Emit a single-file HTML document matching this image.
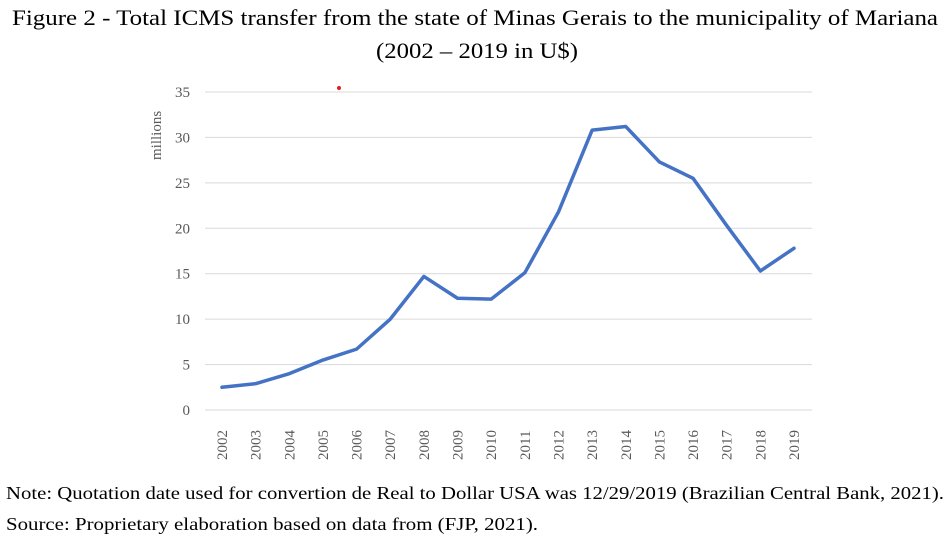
<!DOCTYPE html>
<html><head><meta charset="utf-8"><style>
body{margin:0;background:#fff;width:948px;height:547px;overflow:hidden;font-family:"Liberation Serif",serif;}
</style></head><body>
<svg id="c" width="948" height="547" style="position:absolute;left:0;top:0" font-family="Liberation Serif">
<text x="12" y="25" font-size="22" textLength="926" lengthAdjust="spacingAndGlyphs">Figure 2 - Total ICMS transfer from the state of Minas Gerais to the municipality of Mariana</text>
<text x="376" y="58" font-size="22" textLength="202" lengthAdjust="spacingAndGlyphs">(2002 – 2019 in U$)</text>
<text x="6" y="499" font-size="18" textLength="938" lengthAdjust="spacingAndGlyphs">Note: Quotation date used for convertion de Real to Dollar USA was 12/29/2019 (Brazilian Central Bank, 2021).</text>
<text x="6" y="530" font-size="18" textLength="532" lengthAdjust="spacingAndGlyphs">Source: Proprietary elaboration based on data from (FJP, 2021).</text>
</svg>
<script>
const years=["2002","2003","2004","2005","2006","2007","2008","2009","2010","2011","2012","2013","2014","2015","2016","2017","2018","2019"];
const values=[2.5,2.9,4.0,5.5,6.7,10.0,14.7,12.3,12.2,15.1,21.8,30.8,31.2,27.3,25.5,20.3,15.3,17.8];
const yTicks=[0,5,10,15,20,25,30,35];
const svg=document.getElementById('c');const NS='http://www.w3.org/2000/svg';
const x0=222,x1=794,yb=410,yt=92,ymax=35;
const X=i=>x0+(x1-x0)*i/(years.length-1);
const Y=v=>yb-(yb-yt)*v/ymax;
function mk(t,a){const e=document.createElementNS(NS,t);for(const k in a)e.setAttribute(k,a[k]);svg.appendChild(e);return e;}
yTicks.forEach(v=>{
const g=mk('line',{x1:205,x2:812,y1:Y(v),y2:Y(v),stroke:'#d9d9d9','stroke-width':1});


const t=mk('text',{x:190,y:Y(v)+5,'text-anchor':'end','font-size':15,fill:'#595959'});t.textContent=v;


});
years.forEach((yr,i)=>{
const t=mk('text',{transform:`translate(${X(i)+5},${460}) rotate(-90)`,'font-size':15,fill:'#595959'});t.textContent=yr;


});
const yl=mk('text',{transform:'translate(161,160) rotate(-90)','font-size':15,fill:'#595959'});yl.textContent='millions';


const p=mk('polyline',{points:values.map((v,i)=>X(i)+','+Y(v)).join(' '),fill:'none',stroke:'#4472c4','stroke-width':3.5,'stroke-linejoin':'round','stroke-linecap':'round'});


const d=mk('circle',{cx:339,cy:88,r:2,fill:'#e02020'});


</script>
</body></html>
